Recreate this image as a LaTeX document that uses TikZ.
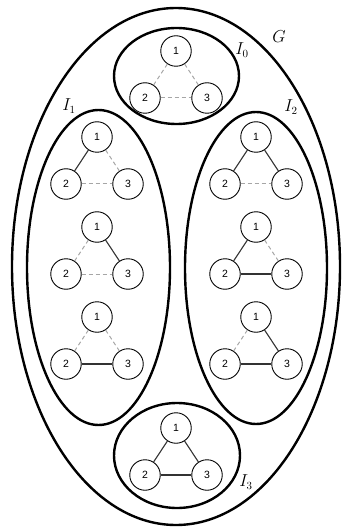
\documentclass[tikz,border=0pt]{standalone}
\usepackage{fontspec}
\newfontfamily\nodefont{Liberation Sans}
\begin{document}
\begin{tikzpicture}[x=1pt,y=-1pt,
  set/.style={draw=black,line width=2.4pt},
  vtx/.style={circle,draw=black,line width=0.9pt,minimum size=30.5pt,inner sep=0pt,font=\nodefont\fontsize{10.5}{12}\selectfont},
  on/.style={draw=black!80,line width=1.1pt},
  off/.style={draw=black!35,line width=1pt,dash pattern=on 4pt off 3pt},
  lab/.style={font=\fontsize{16}{18}\selectfont,inner sep=0pt}]
\useasboundingbox (0,0) rectangle (342,529);
% sets
\draw[set] (176,266.5) ellipse [x radius=164,y radius=258.5];
\draw[set] (176.5,76) ellipse [x radius=62.5,y radius=48];
\draw[set] (98.5,267.5) ellipse [x radius=71.5,y radius=157.5];
\draw[set] (256,268) ellipse [x radius=71,y radius=156];
\draw[set] (177,455.5) ellipse [x radius=63,y radius=52.5];
% labels
\node[lab,font=\fontsize{17}{19}\selectfont] (lG) at (279,37) {$G$};
\node[lab] (l0) at (242,50) {$I_0$};
\node[lab] (l1) at (69,106) {$I_1$};
\node[lab] (l2) at (291,107) {$I_2$};
\node[lab] (l3) at (246,482) {$I_3$};
% graph macro
\newcommand\tri[5]{%
  \node[vtx] (#1a) at (#2,#3) {1};
  \node[vtx] (#1b) at (#2-31,#3+47) {2};
  \node[vtx] (#1c) at (#2+31,#3+47) {3};
  \draw[#4] (#1a) -- (#1b);
  \draw[#5] (#1a) -- (#1c);
}
% I0
\tri{g0}{176}{51}{off}{off}
\draw[off] (g0b) -- (g0c);
% I1
\tri{ga}{97}{137}{on}{off}
\draw[off] (gab) -- (gac);
\tri{gb}{97}{227}{off}{on}
\draw[off] (gbb) -- (gbc);
\tri{gc}{97}{317}{off}{off}
\draw[on] (gcb) -- (gcc);
% I2
\tri{gd}{256}{137}{on}{on}
\draw[off] (gdb) -- (gdc);
\tri{ge}{256}{227}{on}{off}
\draw[on] (geb) -- (gec);
\tri{gf}{256}{317}{off}{on}
\draw[on] (gfb) -- (gfc);
% I3
\tri{gg}{176}{428}{on}{on}
\draw[on] (ggb) -- (ggc);
\end{tikzpicture}
\end{document}
